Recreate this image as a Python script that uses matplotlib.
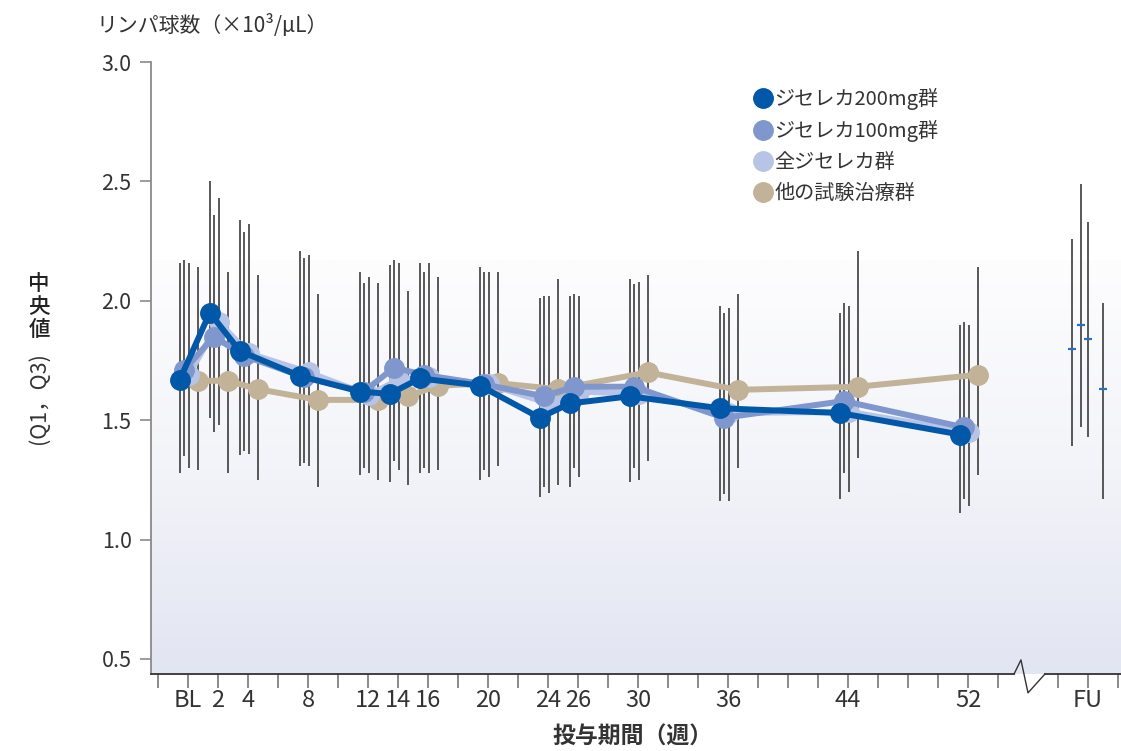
import numpy as np
import matplotlib
matplotlib.use("Agg")
import matplotlib.pyplot as plt
from matplotlib.lines import Line2D
from matplotlib.colors import LinearSegmentedColormap

plt.rcParams['font.family'] = ['Noto Sans CJK JP', 'DejaVu Sans']

# 投与週（BL=0）
weeks = [0, 2, 4, 8, 12, 14, 16, 20, 24, 26, 30, 36, 44, 52]
weeks_other = [0, 2, 4, 8, 12, 14, 16, 20, 24, 30, 36, 44, 52]

# 中央値
med_200 = [1.67, 1.95, 1.79, 1.685, 1.62, 1.61, 1.675, 1.645, 1.51, 1.57, 1.60, 1.55, 1.53, 1.44]
med_100 = [1.71, 1.85, 1.77, 1.68, 1.62, 1.72, 1.69, 1.65, 1.60, 1.64, 1.64, 1.51, 1.58, 1.47]
med_all = [1.69, 1.91, 1.78, 1.70, 1.605, 1.67, 1.68, 1.65, 1.57, 1.62, 1.61, 1.53, 1.535, 1.45]
med_other = [1.665, 1.665, 1.63, 1.585, 1.585, 1.60, 1.645, 1.655, 1.63, 1.70, 1.627, 1.64, 1.69]

# Q1 / Q3
q1_200 = [1.28, 1.51, 1.355, 1.31, 1.27, 1.24, 1.28, 1.25, 1.18, 1.22, 1.24, 1.16, 1.17, 1.11]
q3_200 = [2.16, 2.50, 2.34, 2.21, 2.12, 2.15, 2.16, 2.14, 2.01, 2.02, 2.09, 1.98, 1.95, 1.90]
q1_100 = [1.35, 1.45, 1.37, 1.32, 1.30, 1.33, 1.30, 1.29, 1.22, 1.30, 1.30, 1.19, 1.28, 1.17]
q3_100 = [2.17, 2.36, 2.29, 2.18, 2.075, 2.17, 2.12, 2.12, 2.02, 2.03, 2.07, 1.95, 1.99, 1.91]
q1_all = [1.30, 1.48, 1.36, 1.31, 1.28, 1.29, 1.28, 1.26, 1.195, 1.26, 1.25, 1.16, 1.20, 1.14]
q3_all = [2.16, 2.43, 2.32, 2.19, 2.10, 2.16, 2.16, 2.12, 2.02, 2.02, 2.08, 1.97, 1.98, 1.90]
q1_other = [1.29, 1.28, 1.25, 1.22, 1.25, 1.23, 1.29, 1.31, 1.23, 1.33, 1.30, 1.34, 1.27]
q3_other = [2.14, 2.12, 2.11, 2.03, 2.075, 2.04, 2.10, 2.12, 2.09, 2.11, 2.03, 2.21, 2.14]

# フォローアップ（200mg, 100mg, 全, 他）
fu_med = [1.80, 1.90, 1.84, 1.63]
fu_q1 = [1.39, 1.47, 1.43, 1.17]
fu_q3 = [2.26, 2.49, 2.33, 1.99]

labels = ['ジセレカ200mg群', 'ジセレカ100mg群', '全ジセレカ群', '他の試験治療群']
colors = ['#0158a8', '#7f97cc', '#b7c4e5', '#c1b298']

tick_weeks = [0, 2, 4, 8, 12, 14, 16, 20, 24, 26, 30, 36, 44, 52, 60]
tick_labels = ['BL', '2', '4', '8', '12', '14', '16', '20', '24', '26', '30', '36', '44', '52', 'FU']

FU_X = 60
XMIN, XMAX = -2.47, 62.2
YMIN, YMAX = 0.437, 3.0

fig = plt.figure(figsize=(11.21, 7.51), dpi=100)
ax = fig.add_axes([151 / 1121, 77 / 751, 1 - 151 / 1121, (674 - 62) / 751])
ax.set_xlim(XMIN, XMAX)
ax.set_ylim(YMIN, YMAX)

# 背景グラデーション
grad = np.linspace(0, 1, 256).reshape(-1, 1)
cmap = LinearSegmentedColormap.from_list('bg', ['#e2e5f2', '#f3f4f9', '#fdfdfe'])
ax.imshow(grad, cmap=cmap, aspect='auto', origin='lower',
          extent=[XMIN, XMAX, YMIN, 2.17], zorder=0)

offsets = [-0.55, -0.27, 0.05, 0.65]
series = [
    (weeks, med_200, q1_200, q3_200),
    (weeks, med_100, q1_100, q3_100),
    (weeks, med_all, q1_all, q3_all),
    (weeks_other, med_other, q1_other, q3_other),
]

# 四分位範囲
for (wk, med, q1, q3), off in zip(series, offsets):
    x = np.array(wk) + off
    ax.vlines(x, q1, q3, color='#3c3c3c', lw=1.2, zorder=2)

# 折れ線とマーカー（他 → 全 → 100mg → 200mg の順で重ねる）
zs = [8, 7, 6, 5]
for (wk, med, q1, q3), off, c, z in zip(series, offsets, colors, zs):
    x = np.array(wk) + off
    ax.plot(x, med, color=c, lw=4.3, marker='o', ms=14, mec=c, zorder=z)

# FU
fu_off = [-1.05, -0.5, 0.0, 1.0]
for i in range(4):
    xf = FU_X + fu_off[i]
    ax.vlines(xf, fu_q1[i], fu_q3[i], color='#3c3c3c', lw=1.2, zorder=2)
    ax.plot(xf, fu_med[i], marker='_', ms=6, mew=1.6, color='#2a6fc0', zorder=3)

# 軸まわり
for s in ['top', 'right', 'bottom']:
    ax.spines[s].set_visible(False)
ax.spines['left'].set_color('#8a8a8a')
ax.spines['left'].set_linewidth(1.3)

ax.set_yticks([0.5, 1.0, 1.5, 2.0, 2.5, 3.0])
ax.set_yticklabels(['0.5', '1.0', '1.5', '2.0', '2.5', '3.0'])
ax.tick_params(axis='y', direction='out', length=8, width=1.2, color='#8a8a8a',
               labelsize=15.5, labelcolor='#333333', pad=6)

minor = [w for w in range(-2, 63, 2) if w != 56]
ax.set_xticks(minor, minor=True)
ax.set_xticks(tick_weeks)
ax.set_xticklabels(tick_labels)
ax.tick_params(axis='x', which='both', direction='out', length=10, width=1.2,
               color='#777777', labelsize=17, labelcolor='#333333', pad=1)

# 下軸（省略記号つき）
ax.plot([XMIN, 55.07], [YMIN, YMIN], color='#333333', lw=1.3, clip_on=False, zorder=9)
ax.plot([57.13, XMAX], [YMIN, YMIN], color='#333333', lw=1.3, clip_on=False, zorder=9)
ax.plot([55.07, 55.53, 56.0, 57.13], [YMIN, 0.496, 0.358, YMIN],
        color='#333333', lw=1.0, clip_on=False, zorder=9)

# ラベル
fig.text(96 / 1121, 1 - 26 / 751, 'リンパ球数（×10³/μL）', fontsize=15,
         color='#333333', ha='left', va='center')
fig.text(633 / 1121, 1 - 737 / 751, '投与期間（週）', fontsize=16.5,
         fontweight='bold', color='#333333', ha='center', va='center')
fig.text(39 / 1121, 1 - 307 / 751, '中\n央\n値', fontsize=15.5, color='#222222',
         ha='center', va='center', linespacing=1.05, fontweight='medium')
fig.text(39 / 1121, 1 - 398 / 751, '(Q1，Q3)', fontsize=15.5, color='#333333',
         ha='center', va='center', rotation=90)

# 凡例
handles = [Line2D([], [], ls='none', marker='o', ms=14, color=c) for c in colors]
fig.legend(handles, labels, loc='upper left', bbox_to_anchor=(743 / 1121, 1 - 78 / 751),
           frameon=False, fontsize=14.5, handlelength=1.0, handletextpad=0.05,
           labelspacing=0.5, borderpad=0, labelcolor='#333333')

fig.savefig('out.png', dpi=100)
